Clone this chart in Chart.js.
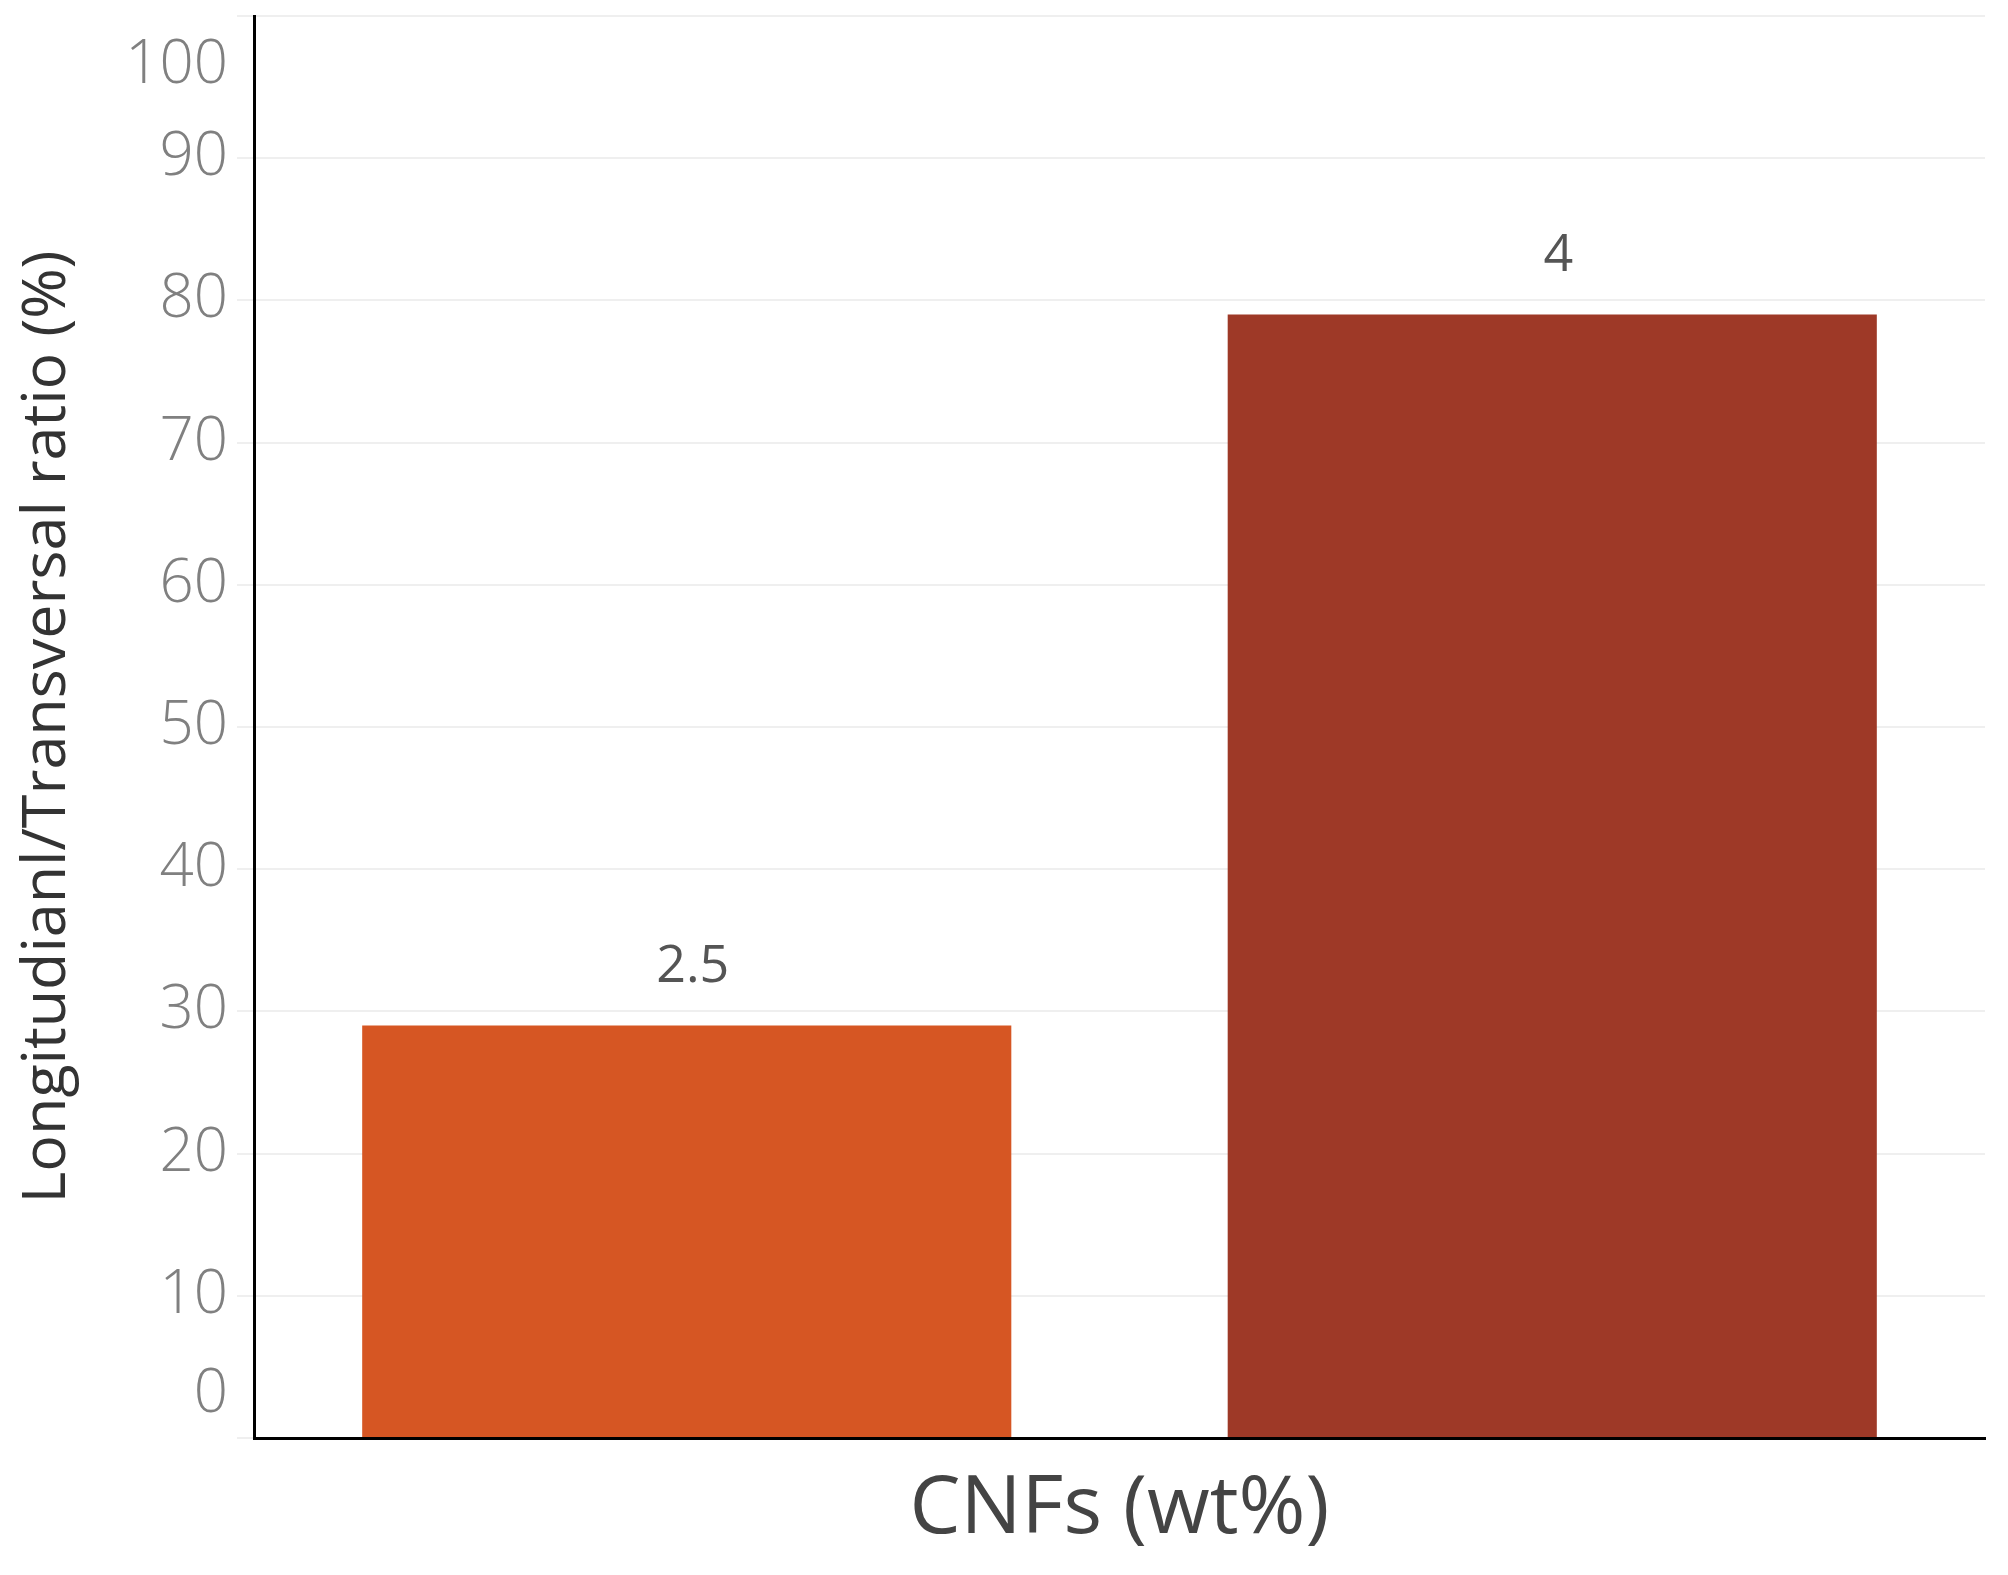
<!DOCTYPE html>
<html>
<head>
<meta charset="utf-8">
<script src="https://cdn.jsdelivr.net/npm/chart.js@4"></script>
<style>
  html, body { margin: 0; padding: 0; background: #fff; }
  #wrap { width: 2008px; height: 1575px; }
</style>
</head>
<body>
<div id="wrap"><canvas id="ratioChart" width="2008" height="1575"></canvas></div>
<script>
// values
const categories = ['2.5', '4'];          // CNFs (wt%)
const ratioValues = [29, 79];             // longitudinal/transversal ratio (%)
const barColors = ['#D65623', '#9E3927'];
const yTicks = [0, 10, 20, 30, 40, 50, 60, 70, 80, 90, 100];

// y tick labels: Tableau keeps the end labels inside the axis, so clamp them
const yTickLabels = {
    id: 'yTickLabels',
    afterDraw(chart) {
        const y = chart.scales.y;
        const ctx = chart.ctx;
        ctx.save();
        ctx.font = '300 60px "Open Sans"';
        ctx.fillStyle = '#808080';
        ctx.textAlign = 'right';
        ctx.textBaseline = 'middle';
        yTicks.forEach(v => {
            let py = y.getPixelForValue(v);
            py = Math.min(Math.max(py, y.top + 50), y.bottom - 43);
            ctx.fillText(String(v), chart.chartArea.left - 26, py);
        });
        ctx.restore();
    }
};

// category names sit above each bar
const barTopLabels = {
    id: 'barTopLabels',
    afterDatasetsDraw(chart) {
        const ctx = chart.ctx;
        const meta = chart.getDatasetMeta(0);
        ctx.save();
        ctx.font = '52px "Open Sans"';
        ctx.fillStyle = '#555555';
        ctx.textAlign = 'center';
        ctx.textBaseline = 'middle';
        meta.data.forEach((bar, i) => {
            ctx.fillText(categories[i], bar.x + 6, bar.y - 58);
        });
        ctx.restore();
    }
};

const ctx = document.getElementById('ratioChart').getContext('2d');
new Chart(ctx, {
    type: 'bar',
    data: {
        labels: categories,
        datasets: [{
            data: ratioValues,
            backgroundColor: barColors,
            borderWidth: 0,
            categoryPercentage: 1,
            barPercentage: 0.75
        }]
    },
    options: {
        responsive: false,
        animation: false,
        devicePixelRatio: 1,
        layout: { padding: { top: 16, right: 23, bottom: 0, left: 0 } },
        plugins: { legend: { display: false }, tooltip: { enabled: false } },
        scales: {
            x: {
                offset: true,
                grid: { display: false },
                border: { display: true, color: '#000', width: 3 },
                ticks: { display: false },
                title: {
                    display: true,
                    text: 'CNFs (wt%)',
                    color: '#444',
                    font: { family: 'Open Sans', size: 81 },
                    padding: { top: 0, bottom: 16 }
                },
                afterFit(scale) { scale.height = 137; }
            },
            y: {
                min: 0,
                max: 100,
                ticks: { stepSize: 10, display: false },
                grid: { color: '#efefef', lineWidth: 2, tickLength: 17, drawTicks: true },
                border: { display: true, color: '#000', width: 3 },
                title: {
                    display: true,
                    text: 'Longitudianl/Transversal ratio (%)',
                    color: '#333',
                    font: { family: 'Open Sans', size: 61 },
                    padding: { top: 11, bottom: 0 }
                },
                afterFit(scale) { scale.width = 254; }
            }
        }
    },
    plugins: [yTickLabels, barTopLabels]
});
</script>
</body>
</html>
